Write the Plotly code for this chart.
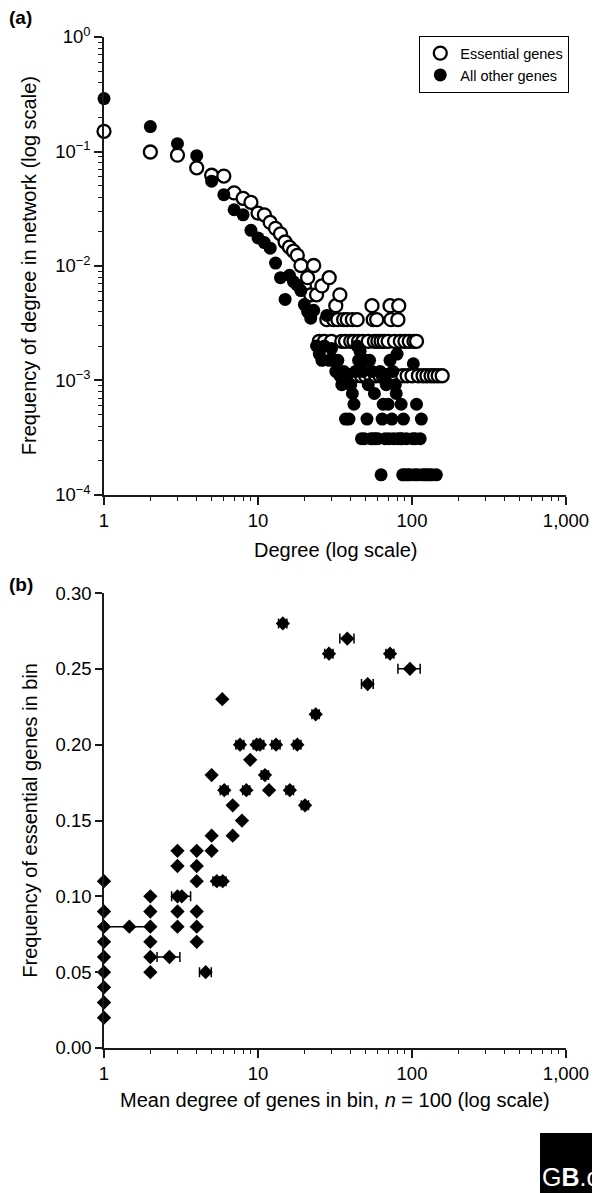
import plotly.graph_objects as go

# ---------------- Panel (a) data ----------------
ess_degree = [1, 2, 3, 4, 5, 6, 7, 8, 9, 10, 11, 12, 13, 14, 15, 16, 17, 18, 19, 20,
              21, 22, 23, 24, 25, 26, 27, 28, 29, 30, 31, 32, 33, 34, 35, 36, 37, 38, 39, 40,
              41, 42, 43, 44, 45, 47, 48, 50, 52, 54, 55, 56, 57, 58, 59, 60, 62, 63, 65, 66,
              68, 70, 72, 73, 75, 77, 79, 81, 82, 84, 87, 90, 93, 96, 100, 103, 107, 110, 118, 125,
              133, 140, 148, 157]
ess_freq = [0.150, 0.099, 0.093, 0.072, 0.062, 0.061, 0.0435, 0.039, 0.036, 0.029,
            0.028, 0.024, 0.0213, 0.0191, 0.0162, 0.0146, 0.0135, 0.0124, 0.0101, 0.0067,
            0.0079, 0.0056, 0.0101, 0.0056, 0.0022, 0.0067, 0.0022, 0.0034, 0.0079, 0.0022,
            0.0034, 0.0045, 0.0034, 0.0056, 0.0022, 0.0034, 0.0022, 0.0034, 0.0011, 0.0022,
            0.0034, 0.0022, 0.0011, 0.0034, 0.0022, 0.0011, 0.0022, 0.0011, 0.0022, 0.0011,
            0.0045, 0.0034, 0.0022, 0.0011, 0.0034, 0.0022, 0.0011, 0.0022, 0.0011, 0.0022,
            0.0011, 0.0022, 0.0045, 0.0034, 0.0011, 0.0022, 0.0011, 0.0034, 0.0045, 0.0022,
            0.0011, 0.0022, 0.0011, 0.0022, 0.0011, 0.0022, 0.0022, 0.0011, 0.0011, 0.0011,
            0.0011, 0.0011, 0.0011, 0.0011]

other_degree = [1, 2, 3, 4, 5, 6, 7, 8, 9, 10, 11, 12, 13, 14, 15, 16, 17, 18, 19, 20,
                21, 22, 23, 24, 25, 26, 27, 28, 29, 30, 31, 32, 33, 34, 35, 36, 37, 38, 39, 40,
                41, 42, 43, 44, 45, 46, 47, 48, 49, 50, 51, 52, 53, 54, 55, 56, 57, 58, 60, 62,
                63, 64, 65, 66, 67, 68, 70, 71, 72, 74, 75, 76, 78, 79, 80, 81, 84, 85, 86, 87,
                88, 90, 92, 94, 97, 101, 102, 104, 105, 107, 109, 113, 115, 117, 121, 125, 130, 135, 144]
other_freq = [0.29, 0.165, 0.117, 0.092, 0.055, 0.042, 0.031, 0.028, 0.0205, 0.0176,
              0.0160, 0.0143, 0.0106, 0.0079, 0.0051, 0.0083, 0.0073, 0.0068, 0.0061, 0.0046,
              0.0040, 0.0035, 0.0041, 0.0020, 0.0017, 0.0015, 0.0020, 0.0037, 0.0015, 0.0019,
              0.0015, 0.0012, 0.0015, 0.0011, 0.00092, 0.0012, 0.00046, 0.0011, 0.00046, 0.00092,
              0.00077, 0.00062, 0.0012, 0.0020, 0.0015, 0.0018, 0.00031, 0.0012, 0.00031, 0.0015,
              0.00046, 0.00092, 0.0015, 0.00031, 0.0012, 0.00031, 0.00077, 0.00031, 0.00031, 0.0012,
              0.00015, 0.00046, 0.00062, 0.0011, 0.00031, 0.00092, 0.00062, 0.00031, 0.0015, 0.00046,
              0.0012, 0.00031, 0.00092, 0.00077, 0.0017, 0.00031, 0.00031, 0.00062, 0.00031, 0.00015,
              0.00046, 0.00015, 0.00031, 0.00015, 0.00015, 0.00031, 0.0014, 0.00015, 0.00031, 0.00062,
              0.00015, 0.00031, 0.00046, 0.00015, 0.00015, 0.00015, 0.00015, 0.00015, 0.00015]

# ---------------- Panel (b) data ----------------
bin_mean_degree = [1, 1, 1, 1, 1, 1, 1, 1, 1,
                   1.46, 2, 2, 2, 2, 2, 2, 2.66,
                   3, 3, 3, 3, 3, 3.2,
                   4, 4, 4, 4, 4, 4, 4.57,
                   5, 5, 5, 5.4, 5.9, 5.86, 6.04, 6.85, 6.85, 7.87,
                   7.64, 8.4, 8.9, 9.8, 10.3, 11.1, 11.8, 13.1, 14.5, 16.1,
                   18.0, 20.2, 23.7, 28.9, 38.0, 51.5, 72.0, 97.0]
bin_ess_freq = [0.11, 0.09, 0.08, 0.07, 0.06, 0.05, 0.04, 0.03, 0.02,
                0.08, 0.10, 0.09, 0.08, 0.07, 0.06, 0.05, 0.06,
                0.13, 0.12, 0.10, 0.09, 0.08, 0.10,
                0.13, 0.12, 0.11, 0.09, 0.08, 0.07, 0.05,
                0.18, 0.14, 0.13, 0.11, 0.11, 0.23, 0.17, 0.16, 0.14, 0.15,
                0.20, 0.17, 0.19, 0.20, 0.20, 0.18, 0.17, 0.20, 0.28, 0.17,
                0.20, 0.16, 0.22, 0.26, 0.27, 0.24, 0.26, 0.25]
bin_degree_err = [0, 0, 0, 0, 0, 0, 0, 0, 0,
                  0.5, 0, 0, 0, 0, 0, 0, 0.45,
                  0, 0, 0, 0, 0, 0.45,
                  0, 0, 0, 0, 0, 0, 0.4,
                  0, 0, 0, 0.3, 0.3, 0, 0.35, 0, 0, 0,
                  0.45, 0.45, 0, 0.5, 0.6, 0.6, 0, 0.8, 0.9, 0.9,
                  1.0, 1.1, 1.3, 1.8, 4.0, 4.5, 4.3, 16.0]

x_tickvals = [1, 10, 100, 1000]
x_ticktext = ["1", "10", "100", "1,000"]
a_y_tickvals = [1, 0.1, 0.01, 0.001, 0.0001]
a_y_ticktext = ["10<sup>0</sup>", "10<sup>\u22121</sup>", "10<sup>\u22122</sup>",
                "10<sup>\u22123</sup>", "10<sup>\u22124</sup>"]
b_y_tickvals = [0.00, 0.05, 0.10, 0.15, 0.20, 0.25, 0.30]

x_minor = [m * 10 ** e for e in range(0, 3) for m in range(2, 10)]
y_minor = [m * 10.0 ** e for e in range(-4, 0) for m in range(2, 10)]

FONT = "Liberation Sans, Arial, Helvetica, sans-serif"
INK = "#1a1a1a"
TICK_SIZE = 18.5
TITLE_SIZE = 20

fig = go.Figure()

fig.add_trace(go.Scatter(
    x=ess_degree, y=ess_freq, mode="markers", name="Essential genes",
    marker=dict(symbol="circle", size=13, color="white", line=dict(color="black", width=2.3)),
    cliponaxis=False, xaxis="x", yaxis="y"))
fig.add_trace(go.Scatter(
    x=other_degree, y=other_freq, mode="markers", name="All other genes",
    marker=dict(symbol="circle", size=13, color="black", line=dict(color="black", width=0)),
    cliponaxis=False, xaxis="x", yaxis="y"))

fig.add_trace(go.Scatter(
    x=bin_mean_degree, y=bin_ess_freq, mode="markers", showlegend=False,
    marker=dict(symbol="diamond", size=11, color="black"),
    error_x=dict(type="data", array=bin_degree_err, symmetric=True,
                 color="black", thickness=1.5, width=5),
    cliponaxis=False, xaxis="x2", yaxis="y2"))

axis_common = dict(showline=True, linecolor=INK, linewidth=1.5, ticks="outside",
                   tickcolor=INK, tickwidth=1.5, showgrid=False, zeroline=False,
                   tickfont=dict(family=FONT, size=TICK_SIZE, color="black"))

# The page body has an 8 px margin, so the figure is 592 x 1185 and the
# left/top margins are reduced by 8 px to keep the plot area in place.
fig.update_layout(
    width=592, height=1185,
    margin=dict(l=96, r=34, t=29, b=145),
    paper_bgcolor="white", plot_bgcolor="white",
    font=dict(family=FONT, color="black"),
    xaxis=dict(type="log", range=[0, 3], domain=[0, 1], anchor="y",
               tickvals=x_tickvals, ticktext=x_ticktext, ticklen=8,
               minor=dict(tickvals=x_minor, ticks="outside", ticklen=4, tickcolor=INK, tickwidth=1),
               **axis_common),
    yaxis=dict(type="log", range=[-4, 0], domain=[0.547, 1], anchor="x",
               tickvals=a_y_tickvals, ticktext=a_y_ticktext, ticklen=8,
               minor=dict(tickvals=y_minor, ticks="outside", ticklen=4, tickcolor=INK, tickwidth=1),
               **axis_common),
    xaxis2=dict(type="log", range=[0, 3], domain=[0, 1], anchor="y2",
                tickvals=x_tickvals, ticktext=x_ticktext, ticklen=8,
                minor=dict(tickvals=x_minor, ticks="outside", ticklen=4, tickcolor=INK, tickwidth=1),
                **axis_common),
    yaxis2=dict(range=[0, 0.30], domain=[0, 0.45], anchor="x2",
                tickvals=b_y_tickvals, tickformat=".2f", ticklen=7,
                **axis_common),
    legend=dict(x=0.682, y=1.001, xanchor="left", yanchor="top",
                bgcolor="white", bordercolor="black", borderwidth=1.2,
                font=dict(family=FONT, size=14.5, color="black"),
                itemwidth=30, tracegroupgap=0),
    showlegend=True,
)

ann = [
    dict(text="<b>(a)</b>", x=-0.21, y=1.019, xref="paper", yref="paper",
         xanchor="left", yanchor="middle", showarrow=False, font=dict(size=19, family=FONT)),
    dict(text="<b>(b)</b>", x=-0.21, y=0.4585, xref="paper", yref="paper",
         xanchor="left", yanchor="middle", showarrow=False, font=dict(size=19, family=FONT)),
    dict(text="Frequency of degree in network (log scale)", x=-0.162, y=0.7735,
         xref="paper", yref="paper", textangle=-90, showarrow=False,
         xanchor="center", yanchor="middle", font=dict(size=TITLE_SIZE, family=FONT)),
    dict(text="Degree (log scale)", x=0.5, y=0.4925, xref="paper", yref="paper",
         showarrow=False, xanchor="center", yanchor="middle", font=dict(size=TITLE_SIZE, family=FONT)),
    dict(text="Frequency of essential genes in bin", x=-0.162, y=0.225,
         xref="paper", yref="paper", textangle=-90, showarrow=False,
         xanchor="center", yanchor="middle", font=dict(size=TITLE_SIZE, family=FONT)),
    dict(text="Mean degree of genes in bin, <i>n</i> = 100 (log scale)", x=0.5, y=-0.0515,
         xref="paper", yref="paper", showarrow=False, xanchor="center", yanchor="middle",
         font=dict(size=TITLE_SIZE, family=FONT)),
    dict(text="G<b>B</b>.c", x=0.9435, y=-0.1275, xref="paper", yref="paper",
         showarrow=False, xanchor="left", yanchor="middle",
         font=dict(size=25, family=FONT, color="white")),
]
fig.update_layout(annotations=ann)

fig.add_shape(type="rect", xref="paper", yref="paper",
              x0=0.9437, x1=1.08, y0=-0.0841, y1=-0.15,
              fillcolor="black", line=dict(width=0), layer="above")

fig.write_html("out.html")
